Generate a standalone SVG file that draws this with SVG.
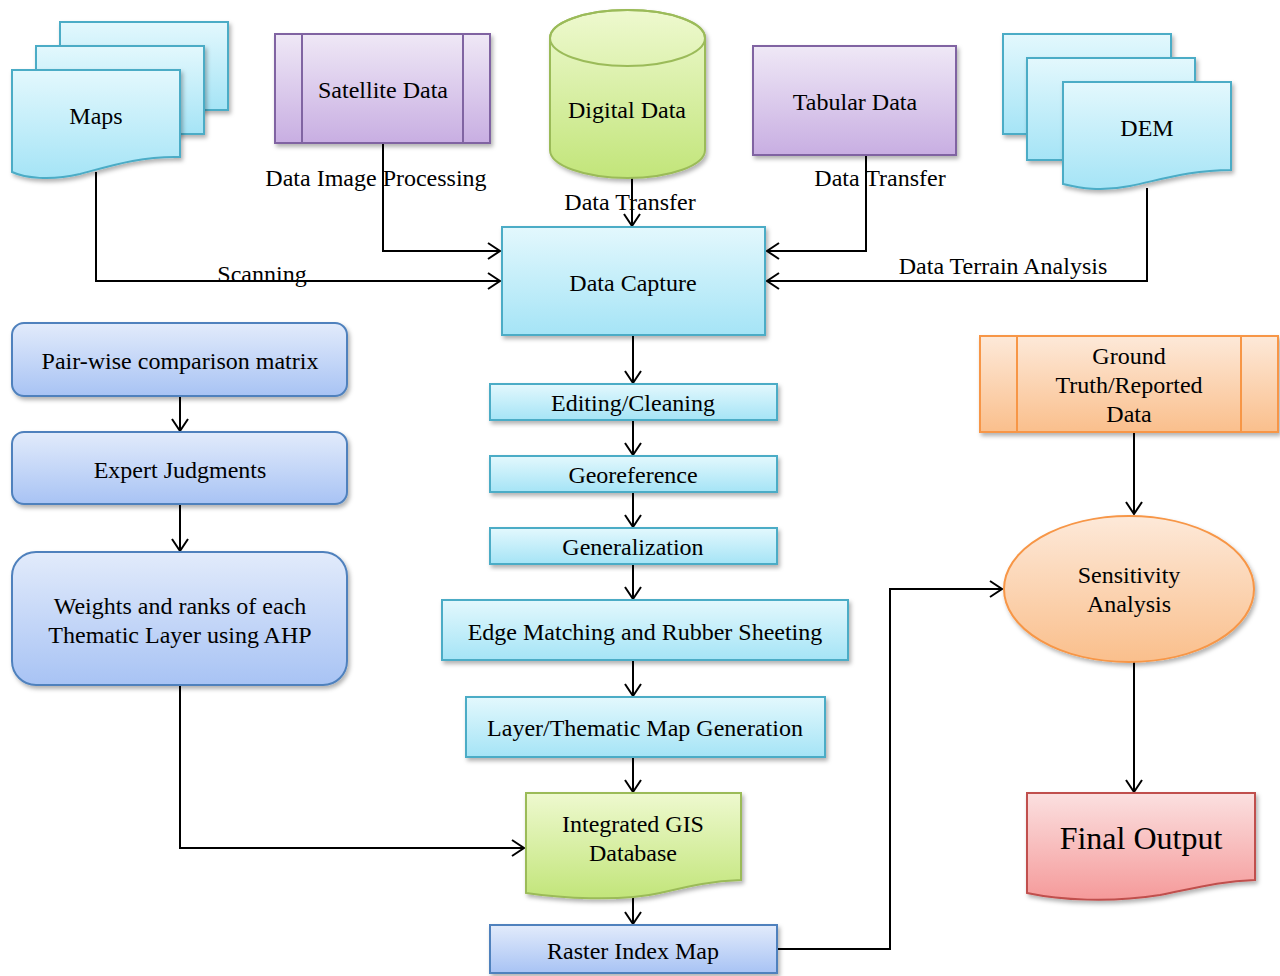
<svg xmlns="http://www.w3.org/2000/svg" width="1280" height="976" viewBox="0 0 1280 976">
<defs>
<linearGradient id="gCyan" x1="0" y1="0" x2="0" y2="1"><stop offset="0" stop-color="#e3f8fd"/><stop offset="1" stop-color="#a5e4f6"/></linearGradient>
<linearGradient id="gPurple" x1="0" y1="0" x2="0" y2="1"><stop offset="0" stop-color="#efe8f6"/><stop offset="1" stop-color="#c8aee2"/></linearGradient>
<linearGradient id="gGreen" x1="0" y1="0" x2="0" y2="1"><stop offset="0" stop-color="#eef9cf"/><stop offset="1" stop-color="#c2e57a"/></linearGradient>
<linearGradient id="gBlue" x1="0" y1="0" x2="0" y2="1"><stop offset="0" stop-color="#e2ebfb"/><stop offset="1" stop-color="#a8c3f4"/></linearGradient>
<linearGradient id="gOrange" x1="0" y1="0" x2="0" y2="1"><stop offset="0" stop-color="#fde9d9"/><stop offset="1" stop-color="#fabf8c"/></linearGradient>
<linearGradient id="gRed" x1="0" y1="0" x2="0" y2="1"><stop offset="0" stop-color="#fbe0e0"/><stop offset="1" stop-color="#f59a9a"/></linearGradient>
<filter id="sh" x="-10%" y="-10%" width="125%" height="130%"><feDropShadow dx="2" dy="3" stdDeviation="2" flood-color="#000" flood-opacity="0.3"/></filter>
<marker id="arr" markerUnits="userSpaceOnUse" markerWidth="16" markerHeight="20" refX="13" refY="8" orient="auto" viewBox="0 0 16 16"><path d="M1,0 L13,8 L1,16" fill="none" stroke="#000" stroke-width="2"/></marker>
<style>
.t{font-family:"Liberation Serif","Times New Roman",serif;font-size:24px;fill:#000;text-anchor:middle}
.cy{fill:url(#gCyan);stroke:#4bacc6;stroke-width:2;filter:url(#sh)}
.pu{fill:url(#gPurple);stroke:#8064a2;stroke-width:2;filter:url(#sh)}
.gr{fill:url(#gGreen);stroke:#9bbb59;stroke-width:2;filter:url(#sh)}
.bl{fill:url(#gBlue);stroke:#4f81bd;stroke-width:2;filter:url(#sh)}
.or{fill:url(#gOrange);stroke:#f79646;stroke-width:2;filter:url(#sh)}
.rd{fill:url(#gRed);stroke:#c0504d;stroke-width:2;filter:url(#sh)}
.ln{fill:none;stroke-width:2}
.c{fill:none;stroke:#000;stroke-width:2;marker-end:url(#arr)}
</style>
</defs>
<rect width="1280" height="976" fill="#fff"/>

<g id="connectors">
<path class="c" d="M96,172 V281 H500"/>
<path class="c" d="M383,143 V251 H500"/>
<path class="c" d="M632,178 V226"/>
<path class="c" d="M866,155 V251 H767"/>
<path class="c" d="M1147,188 V281 H767"/>
<path class="c" d="M633,336 V383"/>
<path class="c" d="M633,420 V455"/>
<path class="c" d="M633,492 V527"/>
<path class="c" d="M633,564 V599"/>
<path class="c" d="M633,660 V696"/>
<path class="c" d="M633,757 V792"/>
<path class="c" d="M633,890 V924"/>
<path class="c" d="M180,396 V431"/>
<path class="c" d="M180,504 V551"/>
<path class="c" d="M180,685 V848 H524"/>
<path class="c" d="M777,949 H890 V589 H1002"/>
<path class="c" d="M1134,432 V514"/>
<path class="c" d="M1134,662 V792"/>
</g>

<g id="edge-labels">
<text class="t" x="262" y="282">Scanning</text>
<text class="t" x="376" y="186">Data Image Processing</text>
<text class="t" x="630" y="210">Data Transfer</text>
<text class="t" x="880" y="186">Data Transfer</text>
<text class="t" x="1003" y="274">Data Terrain Analysis</text>
</g>

<g id="maps">
<rect class="cy" x="60" y="22" width="168" height="88"/>
<rect class="cy" x="36" y="46" width="168" height="88"/>
<path class="cy" d="M12,70 H180 V157 C140,156 110,166 80,174 C50,181 25,178 12,172 Z"/>
<text class="t" x="96" y="124">Maps</text>
</g>

<g id="satellite">
<rect class="pu" x="275" y="34" width="215" height="109"/>
<path class="ln" stroke="#8064a2" d="M302,34 V143 M463,34 V143"/>
<text class="t" x="383" y="98">Satellite Data</text>
</g>

<g id="digital">
<path class="gr" d="M550,38 V150 A77.5,28 0 0 0 705,150 V38 A77.5,28 0 0 0 550,38 Z"/>
<ellipse cx="627.5" cy="38" rx="77.5" ry="28" fill="none" stroke="#9bbb59" stroke-width="2"/>
<text class="t" x="627" y="118">Digital Data</text>
</g>

<g id="tabular">
<rect class="pu" x="753" y="46" width="203" height="109"/>
<text class="t" x="855" y="110">Tabular Data</text>
</g>

<g id="dem">
<path class="cy" d="M1003,34 H1171 V134 H1003 Z"/>
<path class="cy" d="M1027,58 H1195 V160 H1027 Z"/>
<path class="cy" d="M1063,82 H1231 V170 C1190,170 1160,180 1130,186 C1100,192 1080,188 1063,184 Z"/>
<text class="t" x="1147" y="136">DEM</text>
</g>

<g id="data-capture">
<rect class="cy" x="502" y="227" width="263" height="108"/>
<text class="t" x="633" y="291">Data Capture</text>
</g>

<g id="editing">
<rect class="cy" x="490" y="384" width="287" height="36"/>
<text class="t" x="633" y="411">Editing/Cleaning</text>
</g>

<g id="georeference">
<rect class="cy" x="490" y="456" width="287" height="36"/>
<text class="t" x="633" y="483">Georeference</text>
</g>

<g id="generalization">
<rect class="cy" x="490" y="528" width="287" height="36"/>
<text class="t" x="633" y="555">Generalization</text>
</g>

<g id="edge-matching">
<rect class="cy" x="442" y="600" width="406" height="60"/>
<text class="t" x="645" y="640">Edge Matching and Rubber Sheeting</text>
</g>

<g id="layer-map">
<rect class="cy" x="466" y="697" width="359" height="60"/>
<text class="t" x="645" y="736">Layer/Thematic Map Generation</text>
</g>

<g id="gis-db">
<path class="gr" d="M526,793 H741 V880 C710,881 690,886 660,893 C620,902 560,898 526,893 Z"/>
<text class="t" x="633" y="832">Integrated GIS</text>
<text class="t" x="633" y="861">Database</text>
</g>

<g id="raster">
<rect class="bl" x="490" y="925" width="287" height="48"/>
<text class="t" x="633" y="959">Raster Index Map</text>
</g>

<g id="pairwise">
<rect class="bl" x="12" y="323" width="335" height="73" rx="12"/>
<text class="t" x="180" y="369">Pair-wise comparison matrix</text>
</g>

<g id="expert">
<rect class="bl" x="12" y="432" width="335" height="72" rx="12"/>
<text class="t" x="180" y="478">Expert Judgments</text>
</g>

<g id="weights">
<rect class="bl" x="12" y="552" width="335" height="133" rx="24"/>
<text class="t" x="180" y="614">Weights and ranks of each</text>
<text class="t" x="180" y="643">Thematic Layer using AHP</text>
</g>

<g id="ground-truth">
<rect class="or" x="980" y="336" width="298" height="96"/>
<path class="ln" stroke="#f79646" d="M1017,336 V432 M1241,336 V432"/>
<text class="t" x="1129" y="364">Ground</text>
<text class="t" x="1129" y="393">Truth/Reported</text>
<text class="t" x="1129" y="422">Data</text>
</g>

<g id="sensitivity">
<ellipse class="or" cx="1129" cy="589" rx="125" ry="73"/>
<text class="t" x="1129" y="583">Sensitivity</text>
<text class="t" x="1129" y="612">Analysis</text>
</g>

<g id="final-output">
<path class="rd" d="M1027,793 H1255 V880 C1220,881 1195,888 1160,895 C1110,903 1060,900 1027,893 Z"/>
<text class="t" x="1141" y="849" style="font-size:32px">Final Output</text>
</g>
</svg>
